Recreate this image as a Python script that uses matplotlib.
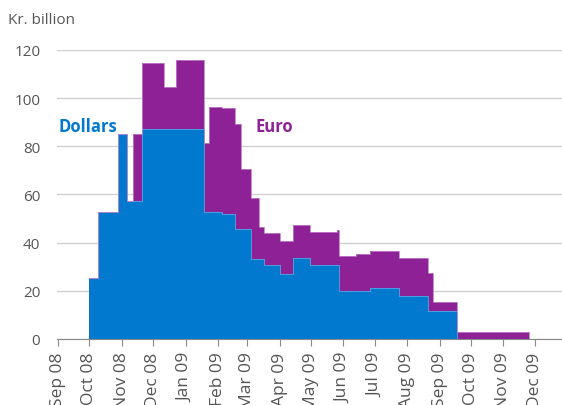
import matplotlib
matplotlib.use("Agg")
import matplotlib.pyplot as plt
import numpy as np
import pandas as pd

# Step start dates (each value holds until the next date)
fechas = ['2008-10-01', '2008-10-09', '2008-10-28', '2008-11-06', '2008-11-12',
          '2008-11-20', '2008-12-11', '2008-12-23', '2009-01-19', '2009-01-23',
          '2009-02-05', '2009-02-17', '2009-02-23', '2009-03-05', '2009-03-12',
          '2009-03-17', '2009-04-01', '2009-04-14', '2009-04-30', '2009-05-26',
          '2009-05-28', '2009-06-13', '2009-06-26', '2009-07-24', '2009-08-21',
          '2009-08-26', '2009-09-18', '2009-11-25']
dollars = [25.3, 52.7, 85.0, 57.5, 57.5, 87.0, 87.0, 87.0, 52.6, 52.6,
           52.1, 45.6, 45.6, 33.2, 33.2, 30.7, 27.1, 33.5, 30.8, 30.8,
           19.8, 19.8, 21.0, 17.7, 11.8, 11.8, 0.0, 0.0]
euro = [0.0, 0.0, 0.0, 0.0, 27.5, 27.4, 17.7, 28.8, 28.6, 43.9,
        43.7, 43.6, 24.9, 25.2, 13.4, 13.4, 13.4, 13.7, 13.5, 14.5,
        14.5, 15.5, 15.4, 15.8, 15.6, 3.4, 3.0, 0.0]

meses = pd.date_range('2008-09-01', '2009-12-01', freq='MS')
etiquetas = [m.strftime('%b %y') for m in meses]

azul = '#0079CF'
morado = '#8E2196'
gris = '#555555'

plt.rcParams['font.family'] = ['Open Sans', 'DejaVu Sans']

x = pd.to_datetime(fechas)
d = np.array(dollars)
total = d + np.array(euro)

fig = plt.figure(figsize=(5.62, 4.06), dpi=100)
ax = fig.add_axes([0.1014, 0.1626, 0.8986, 0.7118])

ax.fill_between(x, 0, d, step='post', color=azul, linewidth=0)
ax.fill_between(x, d, total, step='post', color=morado, linewidth=0)
ax.step(x, d, where='post', color='#5aa6e0', linewidth=0.6)
ax.step(x, total, where='post', color='#c080c8', linewidth=0.6)

ax.set_ylim(0, 120)
ax.set_xlim(pd.Timestamp('2008-08-31'), pd.Timestamp('2009-12-27'))
ax.set_yticks(range(0, 121, 20))
ax.grid(axis='y', color='#d0d0d0', linewidth=1)
ax.set_axisbelow(True)

ax.set_xticks(meses)
ax.set_xticklabels(etiquetas, rotation=90)

for s in ['top', 'right', 'left']:
    ax.spines[s].set_visible(False)
ax.spines['bottom'].set_color('#888888')
ax.tick_params(axis='y', length=0, pad=12, labelsize=11, labelcolor=gris)
ax.tick_params(axis='x', length=5, color='#888888', labelsize=12.5, labelcolor=gris, pad=4)

ax.text(pd.Timestamp('2008-09-01'), 86.5, 'Dollars', color=azul, fontsize=12,
        fontweight='bold', ha='left', va='baseline', zorder=5)
ax.text(pd.Timestamp('2009-03-09'), 86.5, 'Euro', color=morado, fontsize=12,
        fontweight='bold', ha='left', va='baseline', zorder=5)
fig.text(8 / 562, 1 - 20 / 406, 'Kr. billion', color=gris, fontsize=11, va='center')

plt.savefig('out.png', dpi=100)
plt.close()
